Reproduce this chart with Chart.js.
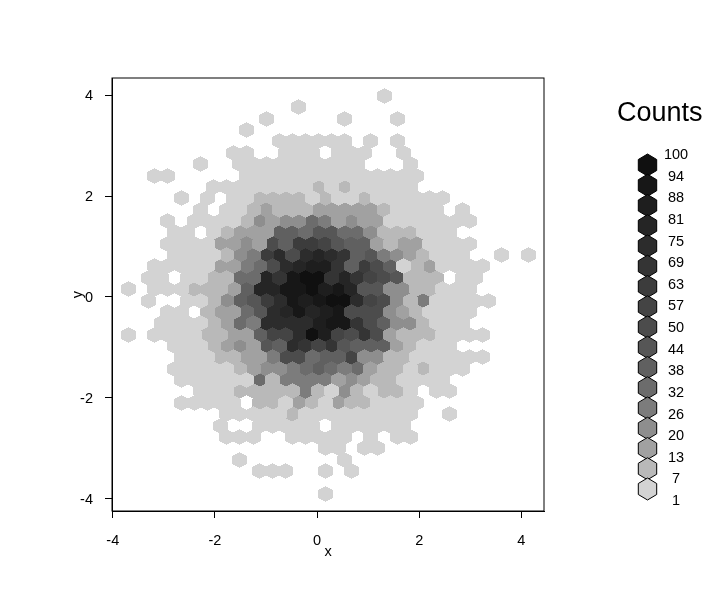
<!DOCTYPE html>
<html>
<head>
<meta charset="utf-8">
<title>Counts</title>
<script src="https://cdn.jsdelivr.net/npm/chart.js@4/dist/chart.umd.js"></script>
<style>
    body { margin: 0; background: #fff; }
    canvas { display: block; }
</style>
</head>
<body>
<canvas id="chart" width="705" height="609"></canvas>
<script>
const countLevels = [1, 7, 13, 20, 26, 32, 38, 44, 50, 57, 63, 69, 75, 81, 88, 94, 100];
const levelColors = ['#d3d3d3', '#b9b9b9', '#a1a1a1', '#8e8e8e', '#7c7c7c', '#6c6c6c', '#606060', '#565656', '#4c4c4c',
    '#444444', '#3c3c3c', '#343434', '#2c2c2c', '#252525', '#1e1e1e', '#171717', '#101010'];
const tickValues = [-4, -2, 0, 2, 4];

// bin centres, the rows alternate between the two column sets
const evenColX = [-3.827, -3.571, -3.314, -3.058, -2.801, -2.545, -2.288, -2.032, -1.775, -1.519, -1.262, -1.006, -0.749, -0.493, -0.236, 0.020,
    0.277, 0.533, 0.790, 1.046, 1.303, 1.559, 1.816, 2.072, 2.329, 2.585, 2.842, 3.098, 3.355, 3.611, 3.868, 4.124];
const oddColX = [-3.699, -3.443, -3.186, -2.930, -2.673, -2.417, -2.160, -1.904, -1.647, -1.391, -1.134, -0.878, -0.621, -0.365, -0.108, 0.148,
    0.405, 0.661, 0.918, 1.174, 1.431, 1.687, 1.944, 2.200, 2.457, 2.713, 2.970, 3.226, 3.483, 3.739, 3.996];
const rowY = [3.980, 3.755, 3.530, 3.305, 3.080, 2.855, 2.630, 2.405, 2.180, 1.955, 1.730, 1.505, 1.280, 1.055, 0.830, 0.605, 0.380, 0.155,
    -0.070, -0.295, -0.520, -0.745, -0.970, -1.195, -1.420, -1.645, -1.870, -2.095, -2.320, -2.545, -2.770, -2.995, -3.220, -3.445, -3.670, -3.895];

// first column index of each row, then the counts from there (0 = empty bin)
const rowStart = [20, 13, 11, 9, 12, 8, 6, 2, 7, 4, 6, 3, 4, 3, 4, 2, 2, 0, 2, 3, 3, 0, 4, 4, 4, 4, 6, 4, 8, 7, 8, 15, 9, 10, 0, 15];
const rowCounts = [
    [1],
    [1],
    [1, 0, 0, 0, 0, 0, 1, 0, 0, 0, 1],
    [1],
    [1, 1, 1, 1, 1, 1, 0, 1, 0, 1],
    [1, 1, 0, 0, 1, 1, 1, 0, 1, 1, 1, 0, 0, 1],
    [1, 0, 0, 1, 1, 1, 1, 1, 1, 1, 1, 1, 1, 0, 0, 0, 1],
    [1, 1, 0, 0, 0, 0, 0, 1, 1, 1, 1, 1, 1, 1, 1, 1, 1, 1, 1, 1, 1],
    [1, 1, 1, 1, 1, 1, 1, 1, 7, 1, 7, 1, 1, 1, 1, 1],
    [1, 0, 1, 0, 1, 1, 7, 7, 7, 7, 1, 7, 1, 1, 7, 1, 1, 1, 1, 1, 1],
    [1, 0, 1, 1, 7, 13, 7, 7, 7, 13, 13, 13, 13, 13, 7, 1, 1, 1, 1, 0, 1],
    [1, 0, 1, 1, 1, 1, 7, 20, 13, 20, 20, 32, 26, 13, 20, 13, 13, 1, 1, 1, 1, 1, 1, 1],
    [1, 1, 0, 1, 7, 13, 13, 13, 38, 38, 32, 44, 44, 32, 32, 20, 7, 7, 7, 1, 1, 1],
    [1, 1, 1, 1, 13, 13, 20, 13, 50, 38, 63, 63, 57, 44, 38, 38, 13, 7, 13, 13, 1, 1, 1, 1],
    [1, 1, 1, 1, 7, 20, 26, 63, 75, 50, 75, 81, 75, 69, 38, 44, 26, 20, 13, 7, 1, 1, 1, 0, 0, 1, 0, 1],
    [1, 1, 1, 1, 1, 13, 13, 26, 32, 50, 75, 81, 88, 88, 69, 38, 63, 50, 38, 1, 7, 13, 1, 1, 1, 1],
    [1, 1, 0, 1, 1, 7, 7, 32, 32, 81, 69, 94, 100, 100, 69, 81, 69, 57, 50, 44, 7, 7, 7, 0, 1, 1],
    [1, 0, 1, 1, 1, 7, 7, 7, 13, 38, 81, 81, 94, 94, 100, 88, 94, 81, 44, 44, 20, 20, 7, 7, 1, 1, 1],
    [1, 0, 0, 1, 1, 7, 20, 38, 44, 63, 75, 94, 88, 94, 100, 100, 75, 57, 50, 20, 7, 26, 1, 1, 1, 1, 1],
    [1, 1, 0, 7, 13, 13, 32, 44, 75, 81, 94, 81, 88, 94, 50, 50, 50, 20, 13, 7, 1, 1, 1, 1],
    [1, 1, 1, 1, 7, 13, 32, 26, 75, 75, 75, 75, 88, 94, 94, 69, 50, 38, 20, 20, 7, 1, 1, 1],
    [1, 0, 1, 1, 1, 1, 7, 7, 13, 13, 38, 57, 57, 75, 100, 88, 57, 50, 69, 50, 13, 7, 7, 7, 1, 1, 1, 1],
    [1, 1, 1, 7, 13, 20, 13, 44, 38, 75, 69, 57, 69, 44, 38, 38, 38, 13, 7, 1, 1, 1],
    [1, 1, 1, 7, 7, 13, 13, 26, 50, 50, 32, 38, 38, 57, 20, 20, 7, 7, 1, 1, 1, 1, 1, 1],
    [1, 1, 1, 1, 1, 7, 13, 20, 20, 26, 32, 38, 32, 26, 32, 13, 7, 7, 1, 7, 1, 1, 1],
    [1, 1, 1, 1, 1, 1, 32, 7, 26, 26, 26, 26, 13, 20, 13, 7, 7, 1, 1, 1, 1],
    [1, 1, 1, 7, 7, 7, 7, 7, 26, 7, 1, 20, 7, 1, 7, 7, 1, 0, 1, 1],
    [1, 1, 1, 1, 1, 0, 7, 7, 1, 13, 7, 1, 13, 7, 7, 1, 1, 1, 1],
    [1, 1, 1, 1, 1, 7, 1, 1, 1, 1, 1, 1, 1, 1, 1, 0, 0, 1],
    [1, 0, 0, 1, 1, 1, 1, 1, 0, 1, 1, 1, 1, 1, 1],
    [1, 1, 1, 0, 0, 1, 1, 1, 1, 1, 0, 1, 0, 1, 1],
    [1, 1, 0, 1, 1],
    [1, 0, 0, 0, 0, 0, 0, 0, 1],
    [1, 1, 1, 0, 0, 1, 0, 1],
    [],
    [1]
];

function hexPath(ctx, cx, cy, r, w) {
    ctx.beginPath();
    ctx.moveTo(cx, cy - r);
    ctx.lineTo(cx + w, cy - r / 2);
    ctx.lineTo(cx + w, cy + r / 2);
    ctx.lineTo(cx, cy + r);
    ctx.lineTo(cx - w, cy + r / 2);
    ctx.lineTo(cx - w, cy - r / 2);
    ctx.closePath();
}

// hard edged sprite, otherwise the seams between bins show through
function hexSprite(color) {
    const c = document.createElement('canvas');
    c.width = 16;
    c.height = 18;
    const ctx = c.getContext('2d');
    ctx.fillStyle = color;
    hexPath(ctx, 8.5, 9, 8, 7);
    ctx.fill();
    const img = ctx.getImageData(0, 0, c.width, c.height);
    const gray = parseInt(color.slice(1, 3), 16);
    for (let i = 0; i < img.data.length; i += 4) {
        const on = img.data[i + 3] >= 128;
        img.data[i] = img.data[i + 1] = img.data[i + 2] = gray;
        img.data[i + 3] = on ? 255 : 0;
    }
    ctx.putImageData(img, 0, 0);
    return c;
}

function pointsFor(level) {
    const pts = [];
    rowCounts.forEach((counts, r) => {
        const cols = r % 2 === 0 ? evenColX : oddColX;
        counts.forEach((n, k) => {
            if (n === level) pts.push({ x: cols[rowStart[r] + k], y: rowY[r] });
        });
    });
    return pts;
}

const hexLegend = {
    id: 'hexLegend',
    beforeDatasetsDraw(chart) {
        chart.ctx.imageSmoothingEnabled = false;
    },
    afterDraw(chart) {
        const { ctx, chartArea } = chart;
        ctx.save();
        ctx.strokeStyle = '#000';
        ctx.lineWidth = 1;
        ctx.strokeRect(chartArea.left, chartArea.top, chartArea.right - chartArea.left, chartArea.bottom - chartArea.top);

        ctx.fillStyle = '#000';
        ctx.textBaseline = 'middle';
        ctx.textAlign = 'left';
        ctx.font = '27px "Liberation Sans"';
        ctx.fillText('Counts', 617, 114);

        // legend runs from the darkest hexagon on top down to the lightest
        ctx.font = '14.5px "Liberation Sans"';
        ctx.textAlign = 'center';
        for (let i = 0; i < countLevels.length; i++) {
            const k = countLevels.length - 1 - i;
            hexPath(ctx, 647.5, 165 + i * 20.25, 11, 9.2);
            ctx.fillStyle = levelColors[k];
            ctx.fill();
            ctx.stroke();
            ctx.fillStyle = '#000';
            ctx.fillText(String(countLevels[k]), 676, 155 + i * 21.63);
        }
        ctx.restore();
    }
};

const tickFont = { family: '"Liberation Sans"', size: 14.5 };

new Chart(document.getElementById('chart'), {
    type: 'scatter',
    data: {
        datasets: countLevels.map((level, i) => ({
            label: String(level),
            data: pointsFor(level),
            pointStyle: hexSprite(levelColors[i]),
            pointRadius: 7,
            pointHoverRadius: 7
        }))
    },
    options: {
        responsive: false,
        animation: false,
        layout: { padding: { left: 0, top: 78, right: 161, bottom: 0 } },
        plugins: { legend: { display: false }, tooltip: { enabled: false } },
        scales: {
            x: {
                min: -4.016,
                max: 4.445,
                afterBuildTicks: (axis) => { axis.ticks = tickValues.map((v) => ({ value: v })); },
                afterFit: (axis) => { axis.height = 98; },
                grid: { drawOnChartArea: false, color: '#000', tickLength: 7 },
                border: { color: '#000' },
                ticks: { color: '#000', font: tickFont, padding: 14, maxRotation: 0 },
                title: { display: true, text: 'x', color: '#000', font: tickFont, padding: { bottom: 48, top: 0 } }
            },
            y: {
                min: -4.238,
                max: 4.337,
                afterBuildTicks: (axis) => { axis.ticks = tickValues.map((v) => ({ value: v })); },
                afterFit: (axis) => { axis.width = 112; },
                grid: { drawOnChartArea: false, color: '#000', tickLength: 7 },
                border: { color: '#000' },
                ticks: { color: '#000', font: tickFont, padding: 12, labelOffset: 1 },
                title: { display: true, text: 'y', color: '#000', font: tickFont, padding: { top: 69, bottom: 0 } }
            }
        }
    },
    plugins: [hexLegend]
});
</script>
</body>
</html>
